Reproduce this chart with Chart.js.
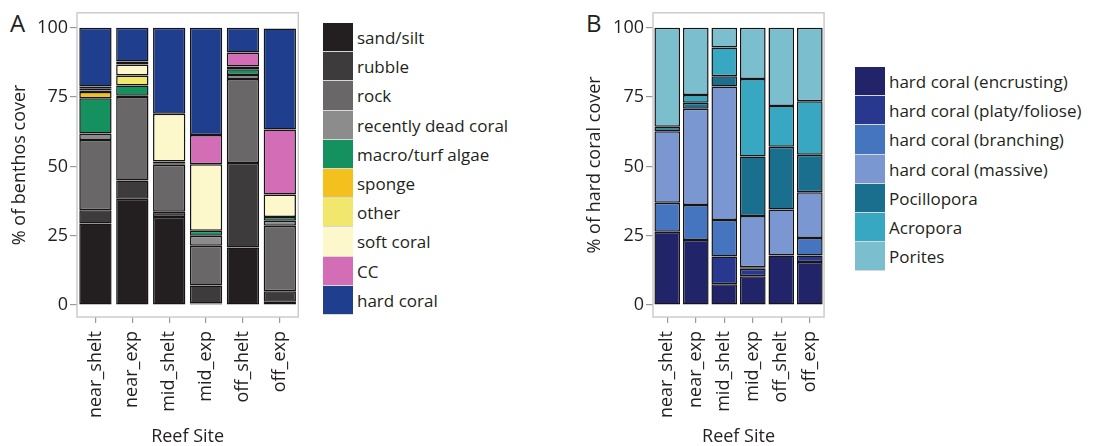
<!DOCTYPE html>
<html>
<head>
<meta charset="utf-8">
<script src="https://cdn.jsdelivr.net/npm/chart.js@4/dist/chart.umd.min.js"></script>
<style>
  body { margin: 0; background: #fff; font-family: "Open Sans", sans-serif; color: #231f20; }
  .wrap { position: absolute; }
  .tag { position: absolute; font-size: 24px; line-height: 24px; color: #231f20; }
  .legend { position: absolute; }
  .legend .item { display: flex; align-items: center; height: 29.2px; }
  .legend .sw { width: 30px; height: 29.2px; box-sizing: border-box; border-bottom: 1px solid #d8d8d8; margin-right: 4px; }
  .legend .lbl { font-size: 17px; white-space: nowrap; color: #231f20; }
</style>
</head>
<body>
<div class="tag" style="left:10px;top:11px">A</div>
<div class="tag" style="left:586px;top:11px">B</div>
<div class="wrap" style="left:0;top:0"><canvas id="chartA" width="310" height="446"></canvas></div>
<div class="wrap" style="left:570px;top:0"><canvas id="chartB" width="270" height="446"></canvas></div>
<div class="legend" id="legendA" style="left:323px;top:23px"></div>
<div class="legend" id="legendB" style="left:855px;top:67px"></div>
<script>
const sites = ['near_shelt', 'near_exp', 'mid_shelt', 'mid_exp', 'off_shelt', 'off_exp'];
const yTicks = [0, 25, 50, 75, 100];

// panel A: % of benthos cover
const sandSilt  = [29.4, 38.3, 31.8, 0.6, 20.8, 1.2];
const rubble    = [4.8, 6.6, 1.9, 6.5, 30.4, 3.8];
const rock      = [25.3, 30.1, 16.9, 14.3, 30.3, 23.6];
const deadCoral = [2.4, 0.5, 0.5, 3.6, 1.5, 1.8];
const algae     = [12.7, 3.7, 0.7, 1.8, 2.0, 1.4];
const sponge    = [2.2, 0, 0, 0, 0, 0];
const other     = [0.6, 3.6, 0, 0, 0, 0];
const softCoral = [0.6, 4.0, 17.2, 24.0, 1.0, 8.1];
const cc        = [0.8, 1.0, 0, 10.5, 5.1, 23.4];
const hardCoral = [21.2, 12.2, 31.0, 38.7, 8.9, 36.4];

// panel B: % of hard coral cover
const encrusting  = [26.4, 23.5, 7.5, 10.4, 17.9, 15.5];
const platy       = [0, 0, 10.0, 2.7, 0, 2.4];
const branching   = [10.5, 12.6, 13.2, 0.5, 0, 6.3];
const massive     = [25.8, 34.7, 48.1, 18.5, 16.6, 16.5];
const pocillopora = [1.6, 2.2, 3.7, 21.5, 22.6, 13.5];
const acropora    = [0, 2.8, 10.4, 27.9, 14.7, 19.3];
const porites     = [35.7, 24.2, 7.1, 18.5, 28.2, 26.5];

const benthos = [
  ['sand/silt', sandSilt, '#231f20'],
  ['rubble', rubble, '#3d3b3b'],
  ['rock', rock, '#696767'],
  ['recently dead coral', deadCoral, '#8d8c8c'],
  ['macro/turf algae', algae, '#14915f'],
  ['sponge', sponge, '#f4c01e'],
  ['other', other, '#f1e76c'],
  ['soft coral', softCoral, '#fcf8cb'],
  ['CC', cc, '#d36db6'],
  ['hard coral', hardCoral, '#1f3e8e'],
];
const coral = [
  ['hard coral (encrusting)', encrusting, '#22246a'],
  ['hard coral (platy/foliose)', platy, '#27388e'],
  ['hard coral (branching)', branching, '#4675c0'],
  ['hard coral (massive)', massive, '#7b97d2'],
  ['Pocillopora', pocillopora, '#1b6f8e'],
  ['Acropora', acropora, '#37a7c2'],
  ['Porites', porites, '#7bbfcf'],
];

const FONT = '"Open Sans", sans-serif';
const TXT = '#231f20';

// light grey box round the plot area
const framePlugin = {
  id: 'frame',
  beforeDatasetsDraw(chart) {
    const a = chart.chartArea;
    const ctx = chart.ctx;
    ctx.save();
    ctx.strokeStyle = '#cccccc';
    ctx.lineWidth = 1.5;
    ctx.strokeRect(a.left, a.top, a.right - a.left, a.bottom - a.top);
    ctx.restore();
  }
};

function makeChart(id, groups, yTitle, padTop, axisW, titlePad, barPct) {
  return new Chart(document.getElementById(id), {
    type: 'bar',
    data: {
      labels: sites,
      datasets: groups.map(g => ({
        label: g[0],
        data: g[1],
        backgroundColor: g[2],
        borderColor: '#161414',
        borderWidth: 1.5,
        borderSkipped: false,
        barPercentage: barPct,
        categoryPercentage: 1,
      })),
    },
    options: {
      responsive: false,
      animation: false,
      layout: { padding: { left: 0, right: 7, top: padTop, bottom: 0 } },
      plugins: { legend: { display: false }, tooltip: { enabled: false } },
      scales: {
        x: {
          stacked: true,
          afterFit: s => { s.height = 446 - 317; },
          grid: { offset: false, drawOnChartArea: false, drawTicks: true, tickLength: 6, color: '#9a9a9a', lineWidth: 1.2 },
          border: { display: false },
          ticks: { autoSkip: false, minRotation: 90, maxRotation: 90, padding: 8, color: TXT, font: { family: FONT, size: 18 } },
          title: { display: true, text: 'Reef Site', color: TXT, font: { family: FONT, size: 18, lineHeight: 1 }, padding: { top: 0, bottom: 0 } },
        },
        y: {
          stacked: true,
          min: -4.3,
          max: 105.4,
          afterBuildTicks: s => { s.ticks = yTicks.map(v => ({ value: v })); },
          afterFit: s => { s.width = axisW; },
          grid: { drawOnChartArea: false, drawTicks: true, tickLength: 7, color: '#9a9a9a', lineWidth: 1.2 },
          border: { display: false },
          ticks: { padding: 2, color: TXT, font: { family: FONT, size: 18 } },
          title: { display: true, text: yTitle, color: TXT, font: { family: FONT, size: 18, lineHeight: 1 }, padding: { top: titlePad, bottom: 0 } },
        },
      },
    },
    plugins: [framePlugin],
  });
}

makeChart('chartA', benthos, '% of benthos cover', 10, 77, 11, 0.876);
makeChart('chartB', coral, '% of hard coral cover', 12, 83, 16, 0.9);

function buildLegend(id, groups) {
  const box = document.getElementById(id);
  groups.forEach(g => {
    const row = document.createElement('div');
    row.className = 'item';
    const sw = document.createElement('div');
    sw.className = 'sw';
    sw.style.background = g[2];
    const lbl = document.createElement('div');
    lbl.className = 'lbl';
    lbl.textContent = g[0];
    row.appendChild(sw);
    row.appendChild(lbl);
    box.appendChild(row);
  });
}
buildLegend('legendA', benthos);
buildLegend('legendB', coral);
</script>
</body>
</html>
